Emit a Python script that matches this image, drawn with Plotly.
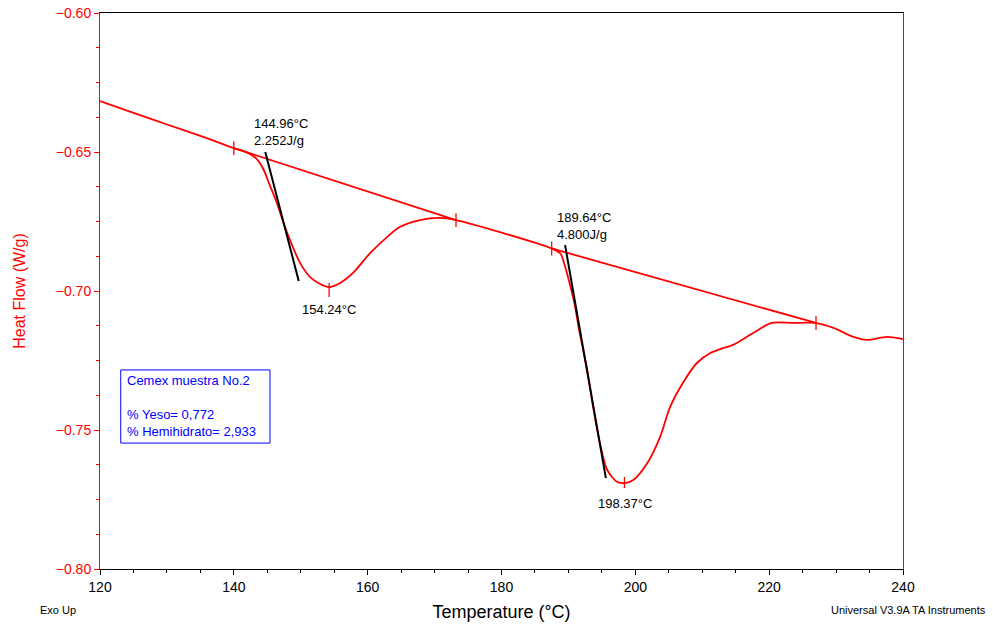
import plotly.graph_objects as go

# Heat flow curve (Temperature °C, W/g)
temp = [120, 125, 130, 135, 140, 141.9, 143.4, 144.4, 145.4, 146.4, 147.4, 148.4, 149.9,
        151.4, 152.9, 154.2, 155.9, 157.8, 160.4, 162.9, 164.8, 167.8, 170.8, 173.2,
        180.0, 187.5, 188.8, 189.5, 190.3, 191.0, 191.5, 192.8, 193.7, 194.7, 195.8,
        197.3, 198.4, 199.7, 201.8, 203.7, 205.2, 207.1, 209.2, 211.2, 212.7, 214.6,
        217.6, 220.4, 223.6, 226.9, 229.6, 232.6, 234.6, 237.6, 240.0]
heat_flow = [-0.6317, -0.6359, -0.6401, -0.6442, -0.6486, -0.6501, -0.6525, -0.6561, -0.6621,
             -0.6681, -0.6753, -0.6817, -0.6899, -0.6950, -0.6975, -0.6986, -0.6971, -0.6935,
             -0.6863, -0.6806, -0.6770, -0.6745, -0.6737, -0.6745, -0.6790, -0.6847, -0.6865,
             -0.6912, -0.6984, -0.7056, -0.7128, -0.7284, -0.7417, -0.7547, -0.7644, -0.7687,
             -0.7691, -0.7680, -0.7619, -0.7525, -0.7417, -0.7331, -0.7259, -0.7223, -0.7209,
             -0.7194, -0.7151, -0.7115, -0.7115, -0.7115, -0.7133, -0.7165, -0.7176, -0.7165,
             -0.7173]

# Integration baselines
base1_T = [140.0, 173.2]
base1_v = [-0.6486, -0.6745]
base2_T = [187.5, 227.0]
base2_v = [-0.6847, -0.7115]

# Onset tangent lines
tan1_T = [144.7, 149.7]
tan1_v = [-0.6500, -0.6964]
tan2_T = [189.5, 195.6]
tan2_v = [-0.6835, -0.7673]

# Cursor markers (temperature, top, bottom)
mark_T = [140.0, 154.24, 173.2, 187.5, 198.37, 227.0]
mark_top = [-0.6461, -0.6971, -0.6720, -0.6822, -0.7669, -0.7090]
mark_bot = [-0.6511, -0.7022, -0.6770, -0.6872, -0.7709, -0.7140]

# Annotation texts (x, y, text, anchor)
labels = [
    (142.7, -0.6428, "144.96°C<br>2.252J/g", "left"),
    (154.2, -0.7068, "154.24°C", "center"),
    (188.0, -0.6766, "189.64°C<br>4.800J/g", "left"),
    (198.5, -0.7763, "198.37°C", "center"),
]

box_text = "Cemex muestra No.2<br><br>% Yeso= 0,772<br>% Hemihidrato= 2,933"

FONT = "Liberation Sans, Arial, sans-serif"
RED = "#ff0000"

fig = go.Figure()
fig.add_trace(go.Scatter(x=temp, y=heat_flow, mode="lines",
                         line=dict(color=RED, width=1.8, shape="spline", smoothing=0.8),
                         hoverinfo="skip", showlegend=False))
fig.add_trace(go.Scatter(x=base1_T, y=base1_v, mode="lines",
                         line=dict(color=RED, width=1.8), showlegend=False))
fig.add_trace(go.Scatter(x=base2_T, y=base2_v, mode="lines",
                         line=dict(color=RED, width=1.8), showlegend=False))
fig.add_trace(go.Scatter(x=tan1_T, y=tan1_v, mode="lines",
                         line=dict(color="black", width=2), showlegend=False))
fig.add_trace(go.Scatter(x=tan2_T, y=tan2_v, mode="lines",
                         line=dict(color="black", width=2), showlegend=False))

mx, my = [], []
for t, a, b in zip(mark_T, mark_top, mark_bot):
    mx += [t, t, None]
    my += [a, b, None]
fig.add_trace(go.Scatter(x=mx, y=my, mode="lines",
                         line=dict(color=RED, width=1.3), showlegend=False))

for x, y, txt, anc in labels:
    fig.add_annotation(x=x, y=y, text=txt, showarrow=False, xanchor=anc, yanchor="middle",
                       align="left", font=dict(family=FONT, size=13, color="black"))

# Info box
fig.add_shape(type="rect", x0=123.1, x1=145.4, y0=-0.7547, y1=-0.7284,
              line=dict(color="#0000ff", width=1), fillcolor="white", layer="above")
fig.add_annotation(x=123.8, y=-0.7415, text=box_text, showarrow=False, xanchor="left",
                   yanchor="middle", align="left",
                   font=dict(family=FONT, size=13, color="#0000ff"))

# Footer texts
fig.add_annotation(x=-0.0523, y=-0.0737, xref="paper", yref="paper", text="Exo Up",
                   showarrow=False, xanchor="center", yanchor="middle",
                   font=dict(family=FONT, size=11, color="black"))
fig.add_annotation(x=1.1059, y=-0.0737, xref="paper", yref="paper",
                   text="Universal V3.9A TA Instruments", showarrow=False,
                   xanchor="right", yanchor="middle",
                   font=dict(family=FONT, size=11, color="black"))

fig.update_layout(
    width=993, height=624,
    margin=dict(l=100, r=90, t=13, b=55, autoexpand=False),
    paper_bgcolor="white", plot_bgcolor="white",
    showlegend=False,
    font=dict(family=FONT),
    xaxis=dict(range=[120, 240], dtick=20, tick0=120, showgrid=False, zeroline=False,
               automargin=False,
               showline=True, linecolor="black", linewidth=1, mirror=True,
               ticks="outside", ticklen=5, tickcolor="black",
               minor=dict(dtick=5, ticks="outside", ticklen=3, tickcolor="black"),
               tickfont=dict(family=FONT, size=14, color="black"),
               title=dict(text="Temperature (°C)", standoff=11,
                          font=dict(family=FONT, size=18, color="black"))),
    yaxis=dict(range=[-0.80, -0.60], dtick=0.05, tick0=-0.80, tickformat=".2f",
               showgrid=False, zeroline=False, automargin=False,
               showline=True, linecolor=RED, linewidth=1, mirror=True,
               ticks="outside", ticklen=5, tickcolor=RED,
               minor=dict(dtick=0.0125, ticks="outside", ticklen=3, tickcolor=RED),
               tickfont=dict(family=FONT, size=14, color=RED),
               title=dict(text="Heat Flow (W/g)", standoff=26,
                          font=dict(family=FONT, size=16, color=RED))),
)

fig.write_html("out.html")
